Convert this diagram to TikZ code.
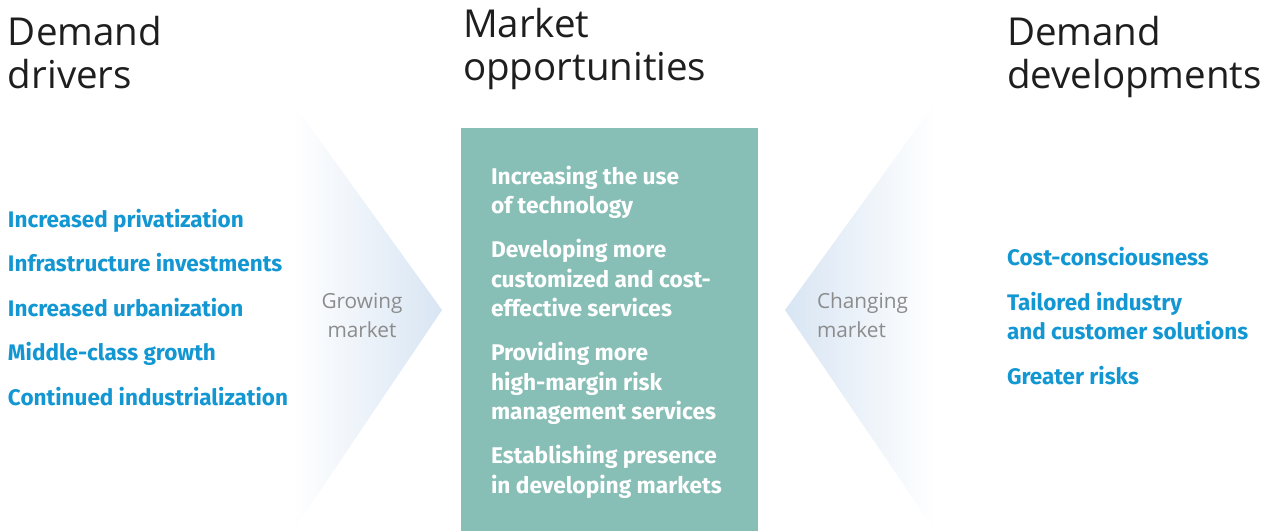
\documentclass[tikz,border=0pt]{standalone}
\usepackage{fontspec}
\setmainfont{Fira Sans}
\newfontfamily\titlefont{Open Sans}
\definecolor{tblue}{RGB}{18,151,211}
\definecolor{tdark}{RGB}{30,30,30}
\definecolor{tteal}{RGB}{135,190,182}
\definecolor{tgrey}{RGB}{140,140,140}
\definecolor{chev}{RGB}{216,229,243}
\begin{document}
\begin{tikzpicture}[x=1pt,y=-1pt,
  every node/.style={inner sep=0pt, outer sep=0pt, anchor=base west},
  title/.style={text=tdark, font=\titlefont\fontsize{38.5}{44}\selectfont},
  drv/.style={text=tblue, font=\bfseries\fontsize{22.5}{24}\selectfont},
  opp/.style={text=white, font=\bfseries\fontsize{22.7}{24}\selectfont},
  lbl/.style={text=tgrey, font=\titlefont\fontsize{20.8}{22}\selectfont}]
\useasboundingbox (0,0) rectangle (1274,531);
% chevrons
\shade[left color=white, right color=chev] (293,103) -- (442,310) -- (293,531) -- cycle;
\shade[left color=chev, right color=white] (785,310) -- (935,103) -- (935,531) -- cycle;
% teal box
\node[fill=tteal, minimum width=297pt, minimum height=403pt, anchor=north west] (box) at (461,128) {};
% titles
\node[title] (t1a) at (8,45) {Demand};
\node[title] (t1b) at (8,88) {drivers};
\node[title] (t2a) at (463,37) {Market};
\node[title] (t2b) at (463,80) {opportunities};
\node[title] (t3a) at (1007,45) {Demand};
\node[title] (t3b) at (1007,88) {developments};
% drivers
\node[drv] (d1) at (8,227) {Increased privatization};
\node[drv] (d2) at (8,271) {Infrastructure investments};
\node[drv] (d3) at (8,316) {Increased urbanization};
\node[drv] (d4) at (8,360) {Middle-class growth};
\node[drv] (d5) at (8,405) {Continued industrialization};
% chevron labels
\node[lbl, anchor=base] (g1) at (362,308) {Growing};
\node[lbl, anchor=base] (g2) at (362,337) {market};
\node[lbl] (c1) at (817,308) {Changing};
\node[lbl] (c2) at (817,337) {market};
% opportunities
\node[opp] (o1) at (491,184) {Increasing the use};
\node[opp] (o2) at (491,213) {of technology};
\node[opp] (o3) at (491,257) {Developing more};
\node[opp] (o4) at (491,287) {customized and cost-};
\node[opp] (o5) at (491,316) {effective services};
\node[opp] (o6) at (491,360) {Providing more};
\node[opp] (o7) at (491,390) {high-margin risk};
\node[opp] (o8) at (491,419) {management services};
\node[opp] (o9) at (491,463) {Establishing presence};
\node[opp] (o10) at (491,493) {in developing markets};
% developments
\node[drv] (e1) at (1007,265) {Cost-consciousness};
\node[drv] (e2) at (1007,310) {Tailored industry};
\node[drv] (e3) at (1007,339) {and customer solutions};
\node[drv] (e4) at (1007,384) {Greater risks};
\end{tikzpicture}
\end{document}
